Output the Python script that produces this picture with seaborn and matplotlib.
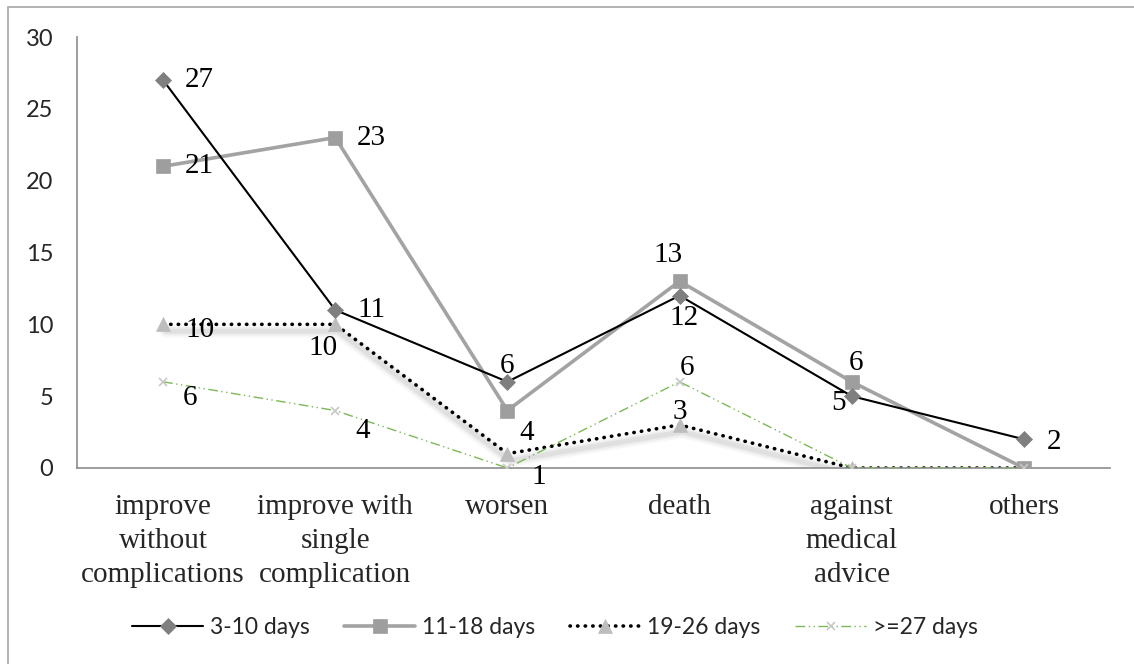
import matplotlib
matplotlib.use("Agg")
import matplotlib.pyplot as plt
import matplotlib.patheffects as pe
from matplotlib.patches import Rectangle
from matplotlib.lines import Line2D
import seaborn as sns
import pandas as pd

categories = ["improve\nwithout\ncomplications", "improve with\nsingle\ncomplication",
              "worsen", "death", "against\nmedical\nadvice", "others"]
series_names = ["3-10 days", "11-18 days", "19-26 days", ">=27 days"]
s_3_10 = [27, 11, 6, 12, 5, 2]
s_11_18 = [21, 23, 4, 13, 6, 0]
s_19_26 = [10, 10, 1, 3, 0, 0]
s_27 = [6, 4, 0, 6, 0, 0]
y_ticks = [0, 5, 10, 15, 20, 25, 30]

# label offsets in pixels (dx, dy, ha) ; None = no label
lab_3_10 = [(22, 0, "left"), (22, 0, "left"), (0, 16, "center"), (4, -22, "center"), (-13, -7, "center"), (30, -3, "center")]
lab_11_18 = [(22, 0, "left"), (22, 0, "left"), (19, -22, "center"), (-12, 26, "center"), (4, 19, "center"), None]
lab_19_26 = [(22, -6, "left"), (-12, -24, "center"), (31, -23, "center"), (0, 13, "center"), None, None]
lab_27 = [(27, -16, "center"), (27, -20, "center"), None, (7, 14, "center"), None, None]

W, H = 1134, 664
sns.set_theme(style="white")
plt.rcParams["font.family"] = ["Lato", "DejaVu Sans"]

fig = plt.figure(figsize=(W / 100, H / 100), dpi=100)
ax = fig.add_axes([77 / W, 1 - 468 / H, (1110 - 77) / W, (468 - 37) / H])

df = pd.DataFrame({"cat": categories, "a": s_3_10, "b": s_11_18, "c": s_19_26, "d": s_27})

# soft shadow under the dotted series
for lw, a in [(9, 0.03), (6, 0.04), (3.5, 0.05)]:
    sns.lineplot(data=df, x="cat", y="c", ax=ax, sort=False, color="black", lw=lw, alpha=a,
                 zorder=1, solid_joinstyle="round", solid_capstyle="round",
                 path_effects=[pe.Stroke(offset=(2, -5))])

line_styles = [
    dict(color="black", lw=1.5, linestyle="-", zorder=4),
    dict(color="#a3a3a3", lw=2.6, linestyle="-", zorder=3),
    dict(color="black", lw=2.6, linestyle=(0, (0.1, 2.0)), zorder=2, dash_capstyle="round"),
    dict(color="#7cb957", lw=1.0, linestyle=(0, (7, 2.5, 1, 2.5, 1, 2.5)), zorder=5),
]
marker_styles = [
    dict(marker="D", markersize=8, markerfacecolor="#7f7f7f", markeredgecolor="#7f7f7f", markeredgewidth=0.5),
    dict(marker="s", markersize=10, markerfacecolor="#9e9e9e", markeredgecolor="#9e9e9e", markeredgewidth=0.5),
    dict(marker="^", markersize=10, markerfacecolor="#bdbdbd", markeredgecolor="#bdbdbd", markeredgewidth=0.5),
    dict(marker="x", markersize=6, markerfacecolor="#c8c8c8", markeredgecolor="#c8c8c8", markeredgewidth=1.2),
]

handles = []
for col, name, ls, ms in zip(["a", "b", "c", "d"], series_names, line_styles, marker_styles):
    sns.lineplot(data=df, x="cat", y=col, ax=ax, sort=False, **ls)
    sns.lineplot(data=df, x="cat", y=col, ax=ax, sort=False, linestyle="none",
                 zorder=ls["zorder"] + 0.5, **ms)
    hl = {k: v for k, v in ls.items() if k not in ("path_effects", "zorder")}
    handles.append(Line2D([], [], label=name, **hl, **ms))

serif = ["Liberation Serif", "DejaVu Serif"]
for vals, labs in zip([s_3_10, s_11_18, s_19_26, s_27], [lab_3_10, lab_11_18, lab_19_26, lab_27]):
    for i, (v, lab) in enumerate(zip(vals, labs)):
        if lab is None:
            continue
        dx, dy, ha = lab
        ax.annotate(str(v), (i, v), xytext=(dx, dy), textcoords="offset pixels",
                    ha=ha, va="center", fontsize=21, family=serif, color="black", zorder=10)

ax.set_xlim(-0.5, 5.5)
ax.set_ylim(0, 30)
ax.set_yticks(y_ticks)
ax.set_yticklabels([str(t) for t in y_ticks])
ax.set_xticks(range(len(categories)))
ax.set_xticklabels(categories, fontsize=21, family=serif, linespacing=1.4)
ax.tick_params(axis="x", length=0, pad=19)
ax.tick_params(axis="y", length=0, pad=17, labelsize=17)
ax.set_xlabel("")
ax.set_ylabel("")
for s in ["top", "right"]:
    ax.spines[s].set_visible(False)
for s in ["left", "bottom"]:
    ax.spines[s].set_color("#8c8c8c")
    ax.spines[s].set_linewidth(1.2)
ax.grid(False)
if ax.get_legend() is not None:
    ax.get_legend().remove()

fig.legend(handles=handles, loc="center", bbox_to_anchor=(555 / W, 1 - 628 / H), ncol=4,
           frameon=False, fontsize=16.5, handlelength=3.1, handletextpad=0.3, columnspacing=1.5,
           numpoints=1)

fig.add_artist(Rectangle((8 / W, -0.5), 2, (1 - 7 / H) + 0.5, transform=fig.transFigure,
                         fill=False, ec="#a6a6a6", lw=1.2))

fig.savefig("out.png", dpi=100, facecolor="white")
